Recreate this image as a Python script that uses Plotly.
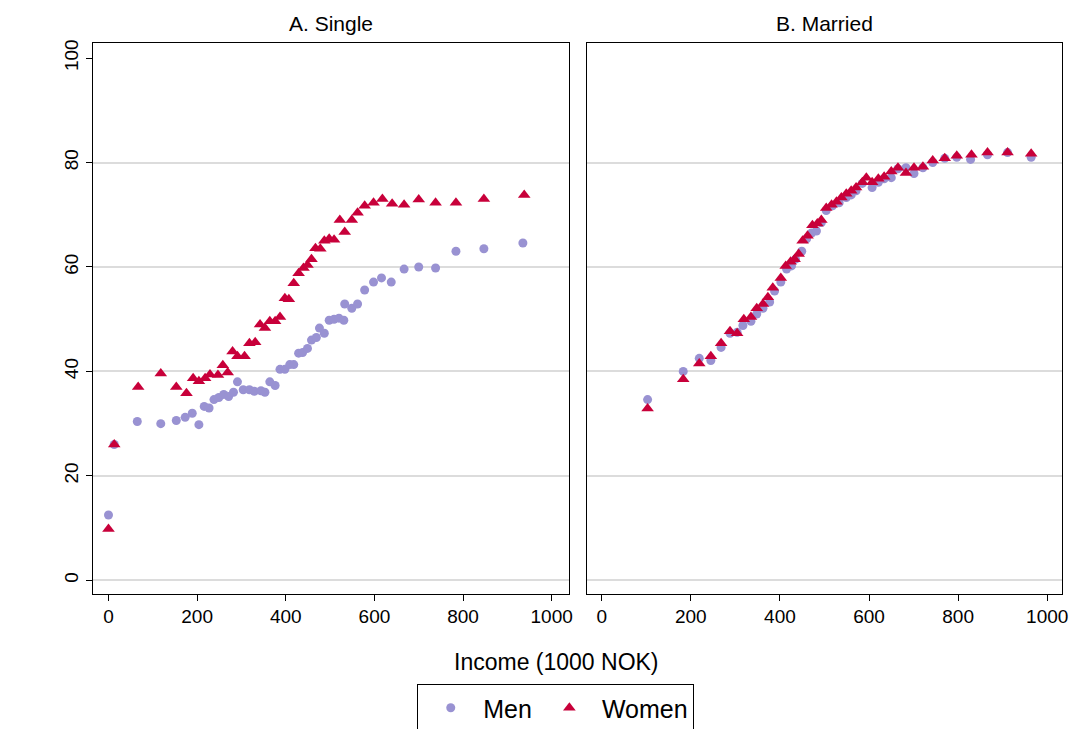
import plotly.graph_objects as go

# Panel A: Single
single_men_x = [0, 13, 65, 118, 153, 173, 189, 204, 216, 227, 238, 249, 260, 271, 282, 291, 304, 318, 329, 344,
                353, 364, 376, 387, 398, 409, 418, 429, 438, 449, 458, 469, 476, 487, 498, 509, 520, 531, 533, 549,
                562, 578, 598, 616, 638, 667, 700, 738, 784, 847, 935]
single_men_y = [12.5, 26, 30.4, 30, 30.6, 31.2, 32, 29.8, 33.3, 33, 34.6, 35, 35.6, 35.2, 36, 38, 36.5, 36.5, 36.2, 36.3,
                36, 38, 37.3, 40.4, 40.4, 41.3, 41.3, 43.5, 43.6, 44.4, 46, 46.5, 48.3, 47.3, 49.8, 50, 50.2, 49.8, 52.9, 52.1,
                52.9, 55.6, 57.1, 57.9, 57.1, 59.6, 60, 59.8, 63, 63.5, 64.6]
single_women_x = [0, 13, 67, 118, 153, 176, 191, 204, 218, 229, 247, 258, 269, 280, 291, 307, 318, 331, 342, 353,
                  364, 376, 387, 398, 407, 418, 429, 440, 449, 458, 467, 478, 487, 498, 509, 522, 533, 549, 562, 578,
                  598, 618, 640, 667, 700, 738, 784, 847, 938]
single_women_y = [9.8, 26, 37, 39.6, 37, 35.8, 38.7, 38.1, 38.7, 39.4, 39.3, 41.2, 39.8, 43.8, 42.9, 42.9, 45.4, 45.6, 49, 48.3,
                  49.6, 49.6, 50.4, 54, 53.8, 56.9, 58.8, 59.8, 60.4, 61.5, 63.6, 63.5, 65, 65.4, 65.2, 69, 66.7, 69, 70.4, 71.7,
                  72.3, 73, 72.1, 71.9, 72.9, 72.3, 72.3, 73, 73.8]

# Panel B: Married
married_men_x = [103, 183, 219, 245, 268, 288, 304, 317, 335, 348, 362, 377, 388, 402, 415, 426, 435, 449, 460, 471,
                 482, 493, 504, 518, 533, 549, 560, 571, 585, 607, 621, 634, 650, 665, 683, 701, 721, 743, 770, 797,
                 828, 866, 911, 964]
married_men_y = [34.6, 40, 42.5, 42.1, 44.6, 47.3, 47.5, 48.8, 49.6, 51, 52.1, 53.3, 55.4, 57.1, 59.6, 60.2, 61.5, 63, 65.4, 66.5,
                 66.9, 68.5, 70.8, 71.7, 72.3, 73.3, 73.8, 74.6, 76, 75.2, 76.2, 76.9, 77.1, 78.8, 79, 77.9, 79, 80, 80.8, 81,
                 80.6, 81.5, 81.9, 81]
married_women_x = [103, 183, 219, 245, 268, 288, 304, 319, 335, 348, 362, 373, 384, 402, 413, 424, 433, 442, 451, 462,
                   473, 484, 493, 504, 516, 527, 538, 549, 560, 571, 585, 594, 607, 621, 634, 650, 665, 683, 701, 721,
                   743, 770, 797, 830, 866, 911, 964]
married_women_y = [32.9, 38.5, 41.5, 42.9, 45.4, 47.7, 47.3, 50, 50.4, 52.1, 52.9, 54.2, 56, 57.9, 60.2, 61, 61.5, 62.5, 65, 66,
                   68, 68.3, 69, 71.3, 71.9, 72.5, 73.3, 74, 74.6, 75.2, 76.2, 77.1, 76.2, 76.9, 77.3, 78.3, 79, 78, 79, 79.2,
                   80.4, 80.8, 81.3, 81.5, 81.9, 81.9, 81.7]

x_ticks = [0, 200, 400, 600, 800, 1000]
y_ticks = [0, 20, 40, 60, 80, 100]
grid_vals = [0, 20, 40, 60, 80]

men_color = "#9992d2"
women_color = "#c8003a"
font = "Liberation Sans, Arial, sans-serif"

fig = go.Figure()
men_marker = dict(symbol="circle", size=9, color=men_color)
women_marker = dict(symbol="triangle-up", size=11, color=women_color)
fig.add_trace(go.Scatter(x=single_men_x, y=single_men_y, mode="markers", marker=men_marker, name="Men"))
fig.add_trace(go.Scatter(x=single_women_x, y=single_women_y, mode="markers", marker=women_marker, name="Women"))
fig.add_trace(go.Scatter(x=married_men_x, y=married_men_y, mode="markers", marker=men_marker, name="Men",
                         xaxis="x2", yaxis="y2", showlegend=False))
fig.add_trace(go.Scatter(x=married_women_x, y=married_women_y, mode="markers", marker=women_marker, name="Women",
                         xaxis="x2", yaxis="y2", showlegend=False))

xcommon = dict(tickvals=x_ticks, showgrid=False, zeroline=False, showline=True, linecolor="black", mirror=True,
               ticks="outside", ticklen=6, tickcolor="black", tickfont=dict(size=19, color="black"))
ycommon = dict(range=[-2.55, 102.9], domain=[0.1975, 0.956], showgrid=False, zeroline=False, showline=True,
               linecolor="black", mirror=True,
               minor=dict(tickvals=grid_vals, showgrid=True, gridcolor="#dcdcdc", gridwidth=1.5, ticklen=0))

fig.update_layout(
    width=1080, height=729, margin=dict(l=0, r=0, t=0, b=0),
    plot_bgcolor="white", paper_bgcolor="white", font=dict(family=font, color="black"),
    xaxis=dict(xcommon, range=[-36, 1038.7], domain=[0.0787, 0.5222]),
    xaxis2=dict(xcommon, range=[-33.5, 1033.5], domain=[0.5389, 0.9815], anchor="y2"),
    yaxis=dict(ycommon, tickvals=y_ticks, ticks="outside", ticklen=6, tickcolor="black", tickangle=-90,
               tickfont=dict(size=19, color="black")),
    yaxis2=dict(ycommon, anchor="x2", showticklabels=False, ticks=""),
    legend=dict(orientation="h", x=0.51, xanchor="center", y=0.073, yanchor="top",
                bordercolor="black", borderwidth=1, font=dict(size=25), itemwidth=55),
    annotations=[
        dict(text="A. Single", x=0.3005, y=0.964, xref="paper", yref="paper", xanchor="center", yanchor="bottom",
             showarrow=False, font=dict(size=21)),
        dict(text="B. Married", x=0.760, y=0.964, xref="paper", yref="paper", xanchor="center", yanchor="bottom",
             showarrow=False, font=dict(size=21)),
        dict(text="Income (1000 NOK)", x=0.511, y=0.103, xref="paper", yref="paper", xanchor="center",
             yanchor="middle", showarrow=False, font=dict(size=23)),
    ],
)

fig.write_html("out.html")
